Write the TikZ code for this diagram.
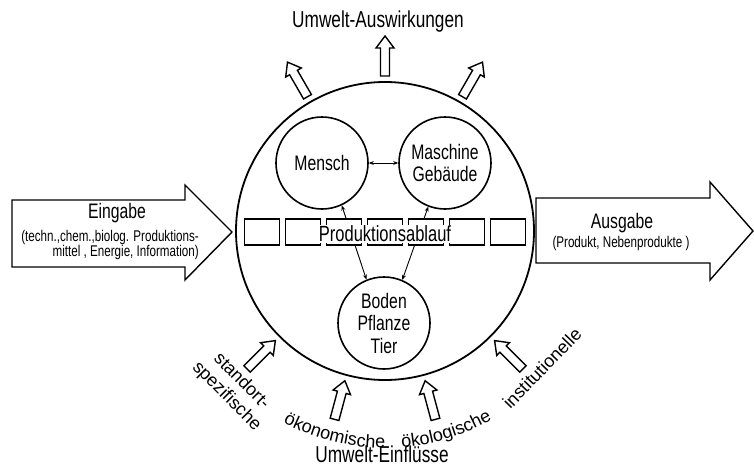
\documentclass[tikz,border=0pt]{standalone}
\usepackage{fontspec}
\setmainfont[FakeStretch=0.75]{Liberation Sans}
\newfontfamily\labelfont{Liberation Sans}
\usepackage{tikz}
\usetikzlibrary{arrows.meta, decorations.text}

\begin{document}
\begin{tikzpicture}[x=1pt, y=1pt, line width=1.6pt,
		unit/.style={circle, draw, minimum size=92pt, inner sep=0pt, align=center, font=\fontsize{21}{22.5}\selectfont},
		stage/.style={draw, fill=white, minimum width=35pt, minimum height=26pt, inner sep=0pt},
		blockarrow/.style={draw, fill=white, line join=miter, line width=1.4pt},
		link/.style={{Stealth[length=5pt,width=4pt]}-{Stealth[length=5pt,width=4pt]}, line width=0.9pt},
		title/.style={font=\fontsize{23}{25}\selectfont},
		detail/.style={font=\fontsize{15.5}{15}\selectfont},
		factor/.style={font=\labelfont\fontsize{18}{21}\selectfont}]
	\useasboundingbox (-385,-238) rectangle (369,231);
	\node[circle, draw, line width=1.8pt, minimum size=298pt, inner sep=0pt] (system) at (0,0) {};
	\node[unit] (mensch) at (-63,68) {Mensch};
	\node[unit] (maschine) at (60,68) {Maschine\\Gebäude};
	\node[unit] (boden) at (-1,-92) {Boden\\Pflanze\\Tier};
	\draw[link] (mensch) -- (maschine);
	\draw[link] (mensch.-65) -- (boden.112);
	\draw[link] (maschine.249) -- (boden.67);
	\foreach \i in {0,...,6}
		\node[stage] (stage-\i) at (-123+41*\i,-1) {};
	\node[fill=white, inner sep=0.5pt, font=\fontsize{22}{24}\selectfont] (ablauf) at (0,-3) {Produktionsablauf};
	% Eingabe / Ausgabe
	\draw[blockarrow] (-373,31) -- (-200,31) -- (-200,46) -- (-153,-1) -- (-200,-49) -- (-200,-36) -- (-373,-36) -- cycle;
	\node[font=\fontsize{21}{22}\selectfont] (eingabe) at (-268,18) {Eingabe};
	\node[detail, align=right] (eingabe-text) at (-275,-13.5) {(techn.,chem.,biolog. Produktions-\\mittel , Energie, Information)};
	\draw[blockarrow] (151,33) -- (325,33) -- (325,49) -- (368,0) -- (325,-49) -- (325,-32) -- (151,-32) -- cycle;
	\node[font=\fontsize{21}{22}\selectfont] (ausgabe) at (237,8) {Ausgabe};
	\node[detail] (ausgabe-text) at (236,-12) {(Produkt, Nebenprodukte )};
	% Umwelt
	\foreach \a in {60,90,120}
		\draw[blockarrow, rotate=\a] (155,-4.5) -- (183,-4.5) -- (183,-9) -- (195,0) -- (183,9) -- (183,4.5) -- (155,4.5) -- cycle;
	\foreach \a in {225,255,285,315}
		\draw[blockarrow, rotate=\a] (195,-4.5) -- (167,-4.5) -- (167,-9) -- (155,0) -- (167,9) -- (167,4.5) -- (195,4.5) -- cycle;
	\node[title] (auswirkungen) at (-7,209) {Umwelt-Auswirkungen};
	\node[title] (einfluesse) at (-3,-223) {Umwelt-Einflüsse};
	\node[factor, rotate=-45, align=center] (standort) at (-151,-158) {standort-\\spezifische};
	\node[factor, rotate=46] (institutionell) at (157,-137) {institutionelle};
	\path[decorate, decoration={text along path, text align=center, text format delimiters={|}{|},
		text={|\labelfont\fontsize{18}{20}\selectfont|ökonomische}}] (236:217) arc[start angle=236, end angle=276, radius=217];
	\path[decorate, decoration={text along path, text align=center, text format delimiters={|}{|},
		text={|\labelfont\fontsize{18}{20}\selectfont|ökologische}}] (267:217) arc[start angle=267, end angle=307, radius=217];
\end{tikzpicture}
\end{document}
